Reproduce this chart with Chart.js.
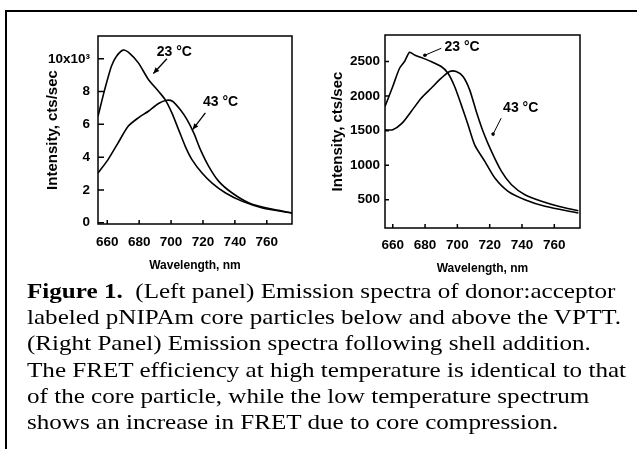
<!DOCTYPE html>
<html>
<head>
<meta charset="utf-8">
<script src="https://cdn.jsdelivr.net/npm/chart.js@4/dist/chart.umd.min.js"></script>
<style>
  body { margin: 0; background: #fff; }
  #page { position: relative; width: 637px; height: 449px; overflow: hidden; }
  .frame-top { position: absolute; left: 5px; top: 10px; width: 632px; height: 2px; background: #000; }
  .frame-left { position: absolute; left: 5px; top: 10px; width: 2px; height: 439px; background: #000; }
  .panel { position: absolute; top: 0; height: 280px; }
  #leftBox { left: 0; width: 320px; }
  #rightBox { left: 320px; width: 317px; }
  #caption {
    position: absolute; left: 27px; top: 278px;
    font-family: "Liberation Serif", "Times New Roman", serif;
    font-size: 21px; line-height: 26.2px; color: #000;
    white-space: nowrap; transform: scaleX(1.195); transform-origin: 0 0;
  }
</style>
</head>
<body>
<div id="page">
  <div class="frame-top"></div>
  <div class="frame-left"></div>
  <div class="panel" id="leftBox"><canvas id="leftChart"></canvas></div>
  <div class="panel" id="rightBox"><canvas id="rightChart"></canvas></div>
  <div id="caption">
    <div><b>Figure 1.</b>&nbsp; (Left panel) Emission spectra of donor:acceptor</div>
    <div>labeled pNIPAm core particles below and above the VPTT.</div>
    <div>(Right Panel) Emission spectra following shell addition.</div>
    <div>The FRET efficiency at high temperature is identical to that</div>
    <div>of the core particle, while the low temperature spectrum</div>
    <div>shows an increase in FRET due to core compression.</div>
  </div>
</div>
<script>
// wavelength ticks (nm) shared by both panels
const xTicks = [660, 680, 700, 720, 740, 760];
const leftYTicks = [0, 2, 4, 6, 8, 10];
const rightYTicks = [500, 1000, 1500, 2000, 2500];

// left panel: core particles (x10^3 cts/sec)
const left23Wl = [654.2, 658.4, 662.6, 665.8, 670.0, 674.2, 679.5, 685.8, 692.1, 696.3, 700.5, 704.7, 708.9, 713.1, 719.4, 725.7, 734.2, 744.7, 757.3, 775.8];
const left23I  = [6.49, 8.12, 9.55, 10.16, 10.53, 10.32, 9.75, 8.74, 8.02, 7.51, 6.70, 5.68, 4.66, 3.85, 3.03, 2.42, 1.81, 1.30, 0.90, 0.59];
const left43Wl = [654.2, 660.5, 666.8, 673.1, 679.5, 685.8, 692.1, 697.3, 700.9, 705.7, 710.0, 714.2, 718.4, 723.6, 729.9, 738.3, 748.9, 761.5, 775.8];
const left43I  = [3.03, 3.85, 4.87, 5.88, 6.40, 6.80, 7.27, 7.47, 7.41, 6.90, 6.29, 5.48, 4.46, 3.44, 2.52, 1.81, 1.20, 0.86, 0.60];

// right panel: after shell addition (cts/sec)
const right23Wl = [655.2, 660, 664.2, 667.3, 670.4, 673.5, 677.6, 683.8, 690, 694.2, 698.3, 702.4, 706.6, 710.7, 717, 723.2, 731.4, 741.8, 754.2, 774.9];
const right23I  = [1850, 2139, 2403, 2500, 2634, 2595, 2558, 2500, 2428, 2331, 2139, 1873, 1584, 1295, 1055, 814, 621, 500, 405, 308];
const right43Wl = [655.2, 660, 665.8, 671.4, 677.6, 683.8, 690, 695.2, 699.3, 703.5, 707.6, 711.7, 715.9, 721.1, 727.3, 733.5, 741.8, 752.1, 762.5, 774.9];
const right43I  = [1512, 1512, 1608, 1777, 1970, 2114, 2259, 2355, 2355, 2283, 2090, 1777, 1488, 1199, 910, 717, 572, 477, 405, 341];

const FONT = "'Liberation Sans', Arial, sans-serif";
Chart.defaults.font.family = FONT;
Chart.defaults.color = '#000';

function toPoints(xs, ys) {
  return xs.map((x, i) => ({ x: x, y: ys[i] }));
}

// box around the plot, inward ticks and the temperature callouts
const boxPlugin = {
  id: 'boxNotes',
  afterDatasetsDraw(chart, args, opts) {
    const { ctx, chartArea: a, scales: { x, y } } = chart;
    ctx.save();
    ctx.strokeStyle = '#000';
    ctx.lineWidth = 1.5;
    ctx.strokeRect(a.left, a.top, a.right - a.left, a.bottom - a.top);
    ctx.beginPath();
    x.ticks.forEach(t => {
      const px = x.getPixelForValue(t.value);
      ctx.moveTo(px, a.bottom);
      ctx.lineTo(px, a.bottom - opts.xTick);
    });
    y.ticks.forEach(t => {
      const py = y.getPixelForValue(t.value);
      ctx.moveTo(a.left, py);
      ctx.lineTo(a.left + opts.yTick, py);
    });
    ctx.stroke();

    ctx.fillStyle = '#000';
    ctx.font = 'bold 14px ' + FONT;
    ctx.textAlign = 'center';
    ctx.textBaseline = 'middle';
    opts.notes.forEach(n => {
      ctx.fillText(n.label, x.getPixelForValue(n.at[0]), y.getPixelForValue(n.at[1]));
      const x1 = x.getPixelForValue(n.from[0]), y1 = y.getPixelForValue(n.from[1]);
      const x2 = x.getPixelForValue(n.to[0]), y2 = y.getPixelForValue(n.to[1]);
      ctx.lineWidth = n.head === 'tri' ? 1.3 : 1;
      ctx.beginPath();
      ctx.moveTo(x1, y1);
      ctx.lineTo(x2, y2);
      ctx.stroke();
      if (n.head === 'tri') {
        const ang = Math.atan2(y2 - y1, x2 - x1);
        ctx.beginPath();
        ctx.moveTo(x2, y2);
        ctx.lineTo(x2 - 6 * Math.cos(ang) + 2.6 * Math.sin(ang), y2 - 6 * Math.sin(ang) - 2.6 * Math.cos(ang));
        ctx.lineTo(x2 - 6 * Math.cos(ang) - 2.6 * Math.sin(ang), y2 - 6 * Math.sin(ang) + 2.6 * Math.cos(ang));
        ctx.closePath();
        ctx.fill();
      } else {
        ctx.beginPath();
        ctx.arc(x2, y2, 1.8, 0, Math.PI * 2);
        ctx.fill();
      }
    });
    ctx.restore();
  }
};

function renderPanel(canvasId, p) {
  const ctx = document.getElementById(canvasId);
  const line = (pts) => ({
    data: pts,
    borderColor: '#000',
    borderWidth: 1.6,
    pointRadius: 0,
    tension: 0.25,
    fill: false
  });

  return new Chart(ctx, {
    type: 'line',
    data: { datasets: [line(p.series23), line(p.series43)] },
    options: {
      responsive: true,
      maintainAspectRatio: false,
      animation: false,
      layout: { padding: p.padding },
      plugins: {
        legend: { display: false },
        tooltip: { enabled: false },
        boxNotes: { xTick: 4, yTick: p.yTick, notes: p.notes }
      },
      scales: {
        x: {
          type: 'linear',
          min: p.xMin,
          max: p.xMax,
          afterBuildTicks: (s) => { s.ticks = xTicks.map(v => ({ value: v })); },
          afterFit: (s) => { s.height = p.xHeight; },
          grid: { display: false, drawTicks: false },
          border: { display: false },
          ticks: { padding: p.xTickPad, maxRotation: 0, font: { size: 13.5, weight: 'bold' } },
          title: {
            display: true,
            text: 'Wavelength, nm',
            font: { size: 12, weight: 'bold' },
            padding: { top: 0, bottom: p.xTitlePad }
          }
        },
        y: {
          type: 'linear',
          min: p.yMin,
          max: p.yMax,
          afterBuildTicks: (s) => { s.ticks = p.yTicks.map(v => ({ value: v })); },
          afterFit: (s) => { s.width = p.yWidth; },
          grid: { display: false, drawTicks: false },
          border: { display: false },
          ticks: {
            padding: p.yTickPad,
            font: { size: 13.5, weight: 'bold' },
            callback: p.yLabel
          },
          title: {
            display: true,
            text: 'Intensity, cts/sec',
            font: { size: 15, weight: 'bold' },
            padding: { top: p.yTitlePad, bottom: 0 }
          }
        }
      }
    },
    plugins: [boxPlugin]
  });
}

renderPanel('leftChart', {
  series23: toPoints(left23Wl, left23I),
  series43: toPoints(left43Wl, left43I),
  xMin: 654.2, xMax: 775.8,
  yMin: -0.08, yMax: 11.39,
  yTicks: leftYTicks,
  yLabel: (v) => v === 10 ? '10x10³' : v,
  padding: { top: 36, right: 28, bottom: 0, left: 0 },
  yWidth: 98, xHeight: 56,
  xTickPad: 10, yTickPad: 8, xTitlePad: 7, yTitlePad: 44,
  yTick: 6,
  notes: [
    { label: '23 °C', at: [702.0, 10.42], from: [697.4, 10.0], to: [688.9, 9.1], head: 'tri' },
    { label: '43 °C', at: [731.0, 7.36], from: [721.5, 6.70], to: [713.5, 5.68], head: 'tri' }
  ]
});

renderPanel('rightChart', {
  series23: toPoints(right23Wl, right23I),
  series43: toPoints(right43Wl, right43I),
  xMin: 655.2, xMax: 775.9,
  yMin: 91, yMax: 2884,
  yTicks: rightYTicks,
  yLabel: (v) => v,
  padding: { top: 35, right: 57, bottom: 0, left: 0 },
  yWidth: 65, xHeight: 52,
  xTickPad: 9, yTickPad: 5, xTitlePad: 4, yTitlePad: 9,
  yTick: 4,
  notes: [
    { label: '23 °C', at: [702.9, 2714], from: [690, 2692], to: [679.9, 2591], head: 'dot' },
    { label: '43 °C', at: [739.2, 1825], from: [727.1, 1681], to: [722.1, 1450], head: 'dot' }
  ]
});
</script>
</body>
</html>
